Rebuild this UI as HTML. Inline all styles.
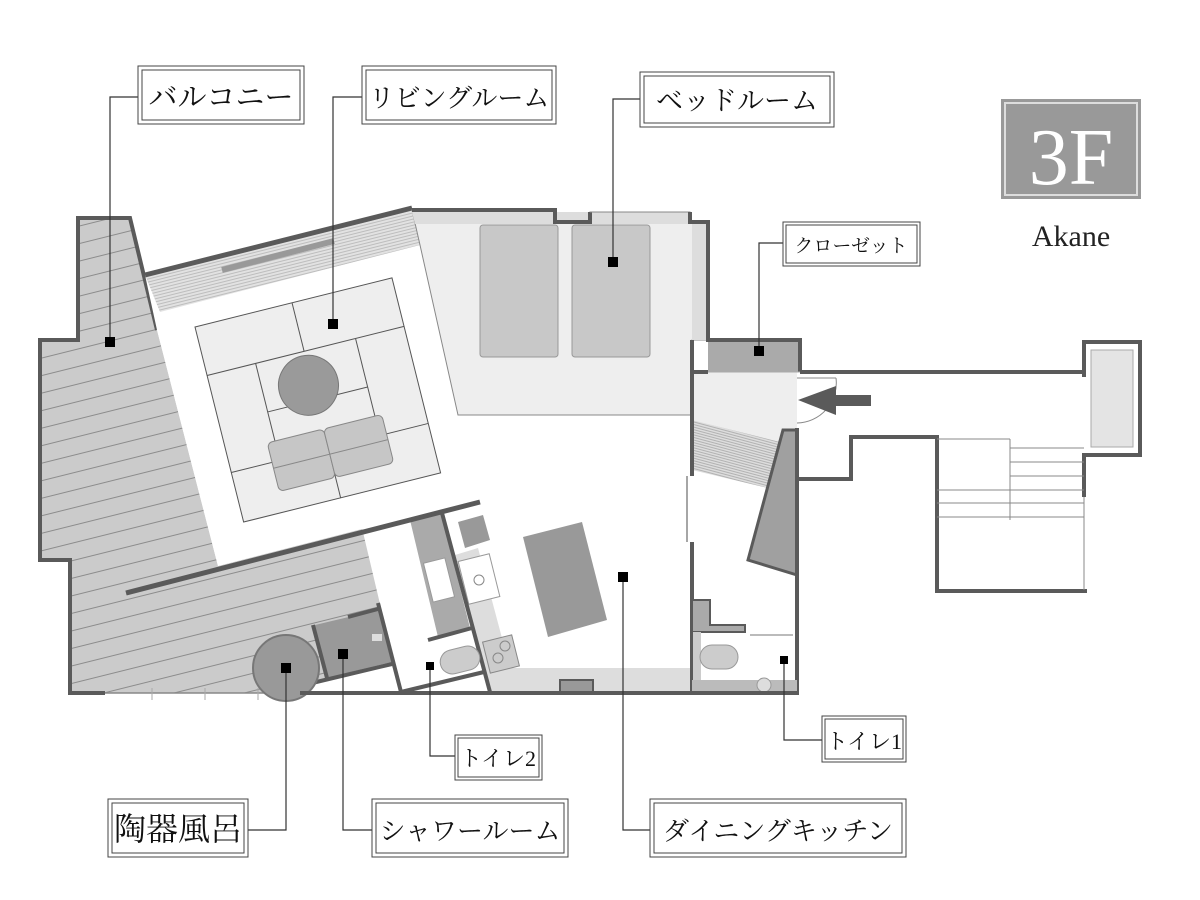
<!DOCTYPE html>
<html><head><meta charset="utf-8"><style>
html,body{margin:0;padding:0;background:#fff;}
svg{display:block}
.lbl{font-family:"Liberation Serif","Noto Serif CJK SC","Noto Sans CJK JP",serif;fill:#111;}
</style></head><body>
<svg width="1200" height="900" viewBox="0 0 1200 900" xmlns="http://www.w3.org/2000/svg">
<defs>
<pattern id="deck" patternUnits="userSpaceOnUse" width="200" height="17" patternTransform="rotate(-14)">
<rect width="200" height="17" fill="#cbcbcb"/><line x1="0" y1="0.5" x2="200" y2="0.5" stroke="#777" stroke-width="0.8"/>
</pattern>
<pattern id="fine" patternUnits="userSpaceOnUse" width="50" height="3" patternTransform="rotate(-14)">
<rect width="50" height="3" fill="#e2e2e2"/><line x1="0" y1="0.5" x2="50" y2="0.5" stroke="#999" stroke-width="0.6"/>
</pattern>
<pattern id="fine2" patternUnits="userSpaceOnUse" width="50" height="2.5" patternTransform="rotate(15)">
<rect width="50" height="2.5" fill="#ddd"/><line x1="0" y1="0.5" x2="50" y2="0.5" stroke="#888" stroke-width="0.6"/>
</pattern>
</defs>

<!-- balcony -->
<polygon points="40,340 78,340 78,218 130,218 157,330 218,566 362,528 385,610 400,693 70,693 70,560 40,560" fill="url(#deck)"/>
<polyline points="105,693 78,693 70,693 70,560 40,560 40,340 78,340 78,218 130,218 157,330" fill="none" stroke="#5a5a5a" stroke-width="4"/>
<line x1="105" y1="693" x2="300" y2="693" stroke="#888" stroke-width="1.5"/>
<line x1="152" y1="688" x2="152" y2="700" stroke="#aaa"/><line x1="205" y1="688" x2="205" y2="700" stroke="#aaa"/><line x1="258" y1="688" x2="258" y2="700" stroke="#aaa"/>

<!-- white toilet2 / shower surroundings -->
<polygon points="362,528 380,604 392,664 305,684 305,693 490,693 442,513 410,520" fill="#fff"/>

<!-- living -->
<polygon points="145,275 412,208 458,415 692,415 692,500 475,500 218,566 157,330" fill="#fff"/>
<polygon points="145,275 412,208 420,245 160,312" fill="url(#fine)"/>
<line x1="145" y1="275" x2="412" y2="208" stroke="#5a5a5a" stroke-width="5"/>
<line x1="222" y1="270" x2="334" y2="241" stroke="#999" stroke-width="6"/>

<!-- tatami -->
<g transform="translate(195,327) rotate(-14)" stroke="#555" stroke-width="1" fill="#eee">
<rect x="0" y="0" width="203" height="201"/>
<line x1="0" y1="50" x2="203" y2="50"/><line x1="100" y1="0" x2="100" y2="50"/>
<line x1="50" y1="50" x2="50" y2="150"/><line x1="153" y1="50" x2="153" y2="150"/>
<line x1="0" y1="150" x2="203" y2="150"/><line x1="100" y1="150" x2="100" y2="201"/>
<line x1="50" y1="100" x2="153" y2="100"/>
<circle cx="96" cy="84" r="30" fill="#9a9a9a" stroke="#777"/>
<rect x="42" y="130" width="58" height="50" rx="5" fill="#c6c6c6" stroke="#888"/>
<rect x="100" y="130" width="60" height="50" rx="5" fill="#c6c6c6" stroke="#888"/>
<line x1="42" y1="156" x2="160" y2="156" stroke="#888"/>
</g>

<!-- bedroom -->
<polygon points="412,210 555,210 555,222 590,222 590,212 690,212 690,222 708,222 708,340 692,340 692,415 458,415 420,245" fill="#eee" stroke="#888" stroke-width="1"/>
<polygon points="412,212 690,212 690,224 415,224" fill="#ddd"/>
<rect x="692" y="224" width="16" height="116" fill="#ddd"/>
<polyline points="412,210 555,210 555,222 590,222 590,212" fill="none" stroke="#5a5a5a" stroke-width="4"/>
<line x1="590" y1="212" x2="690" y2="212" stroke="#888" stroke-width="1"/>
<polyline points="690,212 690,222 708,222 708,342" fill="none" stroke="#5a5a5a" stroke-width="4"/>
<rect x="480" y="225" width="78" height="132" rx="3" fill="#c8c8c8" stroke="#999"/>
<rect x="572" y="225" width="78" height="132" rx="3" fill="#c8c8c8" stroke="#999"/>

<!-- dining/kitchen -->
<polygon points="455,555 478,548 510,668 692,668 692,693 490,693" fill="#ddd"/>
<polygon points="410,520 441,512 470,628 438,637" fill="#aaa"/>
<rect x="428" y="560" width="22" height="40" fill="#fff" stroke="#999" transform="rotate(-14 439 580)"/>
<rect x="463" y="557" width="32" height="44" fill="#fff" stroke="#999" transform="rotate(-14 479 579)"/>
<circle cx="479" cy="580" r="5" fill="none" stroke="#888"/>
<rect x="486" y="638" width="30" height="32" fill="#ccc" stroke="#888" transform="rotate(-14 501 654)"/>
<circle cx="498" cy="658" r="5" fill="none" stroke="#888"/><circle cx="505" cy="646" r="5" fill="none" stroke="#888"/>
<polygon points="458,522 483,515 490,540 465,548" fill="#999"/>
<polygon points="523,537 582,522 607,620 548,637" fill="#999"/>
<rect x="560" y="680" width="33" height="13" fill="#999" stroke="#5a5a5a" stroke-width="2"/>
<line x1="126" y1="593" x2="480" y2="502" stroke="#5a5a5a" stroke-width="5"/>
<line x1="442" y1="513" x2="490" y2="692" stroke="#5a5a5a" stroke-width="4"/>
<line x1="428" y1="640" x2="472" y2="628" stroke="#5a5a5a" stroke-width="4"/>

<!-- shower / bath / toilet2 -->
<polygon points="315,625 378,610 392,662 326,678" fill="#999"/>
<line x1="313" y1="625" x2="327" y2="678" stroke="#5a5a5a" stroke-width="4"/>
<line x1="348" y1="617" x2="378" y2="609" stroke="#5a5a5a" stroke-width="4"/>
<line x1="378" y1="603" x2="401" y2="692" stroke="#5a5a5a" stroke-width="4"/>
<line x1="308" y1="684" x2="392" y2="664" stroke="#5a5a5a" stroke-width="4"/>
<line x1="401" y1="692" x2="484" y2="672" stroke="#5a5a5a" stroke-width="4"/>
<rect x="372" y="634" width="10" height="7" fill="#ddd"/>
<circle cx="286" cy="668" r="33" fill="#999" stroke="#777" stroke-width="2"/>
<rect x="440" y="648" width="40" height="24" rx="12" fill="#ccc" stroke="#999" transform="rotate(-14 460 660)"/>
<line x1="300" y1="693" x2="695" y2="693" stroke="#5a5a5a" stroke-width="4"/>

<!-- right rooms -->
<rect x="692" y="372" width="105" height="70" fill="#eee"/>
<polygon points="692,420 780,442 776,490 692,470" fill="url(#fine2)"/>
<rect x="708" y="340" width="92" height="32" fill="#aaa"/>
<polyline points="708,340 800,340 800,372" fill="none" stroke="#5a5a5a" stroke-width="4"/>
<line x1="692" y1="340" x2="692" y2="476" stroke="#5a5a5a" stroke-width="4"/>
<line x1="692" y1="542" x2="692" y2="693" stroke="#5a5a5a" stroke-width="4"/>
<line x1="687" y1="476" x2="687" y2="542" stroke="#888" stroke-width="1.5"/>
<line x1="692" y1="372" x2="708" y2="372" stroke="#5a5a5a" stroke-width="4"/>
<line x1="708" y1="372" x2="800" y2="372" stroke="#aaa" stroke-width="1"/>
<polygon points="783,430 797,430 797,575 748,560" fill="#a0a0a0" stroke="#5a5a5a" stroke-width="3"/>
<line x1="797" y1="428" x2="797" y2="693" stroke="#5a5a5a" stroke-width="4"/>
<polygon points="692,600 710,600 710,625 745,625 745,632 692,632" fill="#aaa" stroke="#5a5a5a" stroke-width="2"/>
<rect x="693" y="632" width="8" height="48" fill="#ccc"/>
<rect x="700" y="645" width="38" height="24" rx="12" fill="#ccc" stroke="#999"/>
<rect x="692" y="680" width="105" height="13" fill="#bbb"/>
<circle cx="764" cy="685" r="7" fill="#ddd" stroke="#999"/>
<line x1="750" y1="635" x2="793" y2="635" stroke="#777" stroke-width="1"/>
<line x1="692" y1="693" x2="799" y2="693" stroke="#5a5a5a" stroke-width="4"/>

<!-- corridor -->
<line x1="800" y1="372" x2="1084" y2="372" stroke="#5a5a5a" stroke-width="4"/>
<polyline points="1084,377 1084,342 1140,342 1140,455 1084,455 1084,497" fill="none" stroke="#5a5a5a" stroke-width="4"/>
<rect x="1091" y="350" width="42" height="97" fill="#e4e4e4" stroke="#aaa"/>
<polyline points="797,479 851,479 851,437 937,437 937,591 1087,591" fill="none" stroke="#5a5a5a" stroke-width="4"/>
<g stroke="#888" stroke-width="1">
<line x1="937" y1="439" x2="1010" y2="439"/><line x1="1010" y1="439" x2="1010" y2="520"/>
<line x1="1010" y1="448" x2="1084" y2="448"/><line x1="1010" y1="462" x2="1084" y2="462"/><line x1="1010" y1="476" x2="1084" y2="476"/>
<line x1="937" y1="490" x2="1084" y2="490"/><line x1="937" y1="503" x2="1084" y2="503"/><line x1="937" y1="517" x2="1084" y2="517"/>
<line x1="1084" y1="497" x2="1084" y2="590"/>
</g>
<path d="M797,378 L836,378 M836,378 A40,40 0 0 1 797,423" fill="none" stroke="#888" stroke-width="1"/>
<rect x="833" y="395" width="38" height="11" fill="#5a5a5a"/>
<polygon points="798,400 836,386 836,415" fill="#5a5a5a"/>

<!-- leaders -->
<g stroke="#333" stroke-width="1.2" fill="none">
<polyline points="138,97 110,97 110,342"/>
<polyline points="362,97 333,97 333,324"/>
<polyline points="640,99 613,99 613,262"/>
<polyline points="783,243 759,243 759,351"/>
<polyline points="822,740 784,740 784,660"/>
<polyline points="455,756 430,756 430,666"/>
<polyline points="248,830 286,830 286,668"/>
<polyline points="372,830 343,830 343,654"/>
<polyline points="650,830 623,830 623,577"/>
</g>
<g fill="#000">
<rect x="105" y="337" width="10" height="10"/><rect x="328" y="319" width="10" height="10"/>
<rect x="608" y="257" width="10" height="10"/><rect x="754" y="346" width="10" height="10"/>
<rect x="780" y="656" width="8" height="8"/><rect x="426" y="662" width="8" height="8"/>
<rect x="281" y="663" width="10" height="10"/><rect x="338" y="649" width="10" height="10"/>
<rect x="618" y="572" width="10" height="10"/>
</g>

<!-- label boxes -->
<g fill="#fff" stroke="#444" stroke-width="1">
<rect x="138" y="66" width="166" height="58"/><rect x="142" y="70" width="158" height="50"/>
<rect x="362" y="66" width="194" height="58"/><rect x="366" y="70" width="186" height="50"/>
<rect x="640" y="72" width="194" height="55"/><rect x="644" y="76" width="186" height="47"/>
<rect x="783" y="222" width="137" height="44"/><rect x="786" y="225" width="131" height="38"/>
<rect x="822" y="716" width="84" height="46"/><rect x="825" y="719" width="78" height="40"/>
<rect x="455" y="735" width="87" height="45"/><rect x="458" y="738" width="81" height="39"/>
<rect x="108" y="799" width="140" height="58"/><rect x="112" y="803" width="132" height="50"/>
<rect x="372" y="799" width="196" height="58"/><rect x="376" y="803" width="188" height="50"/>
<rect x="650" y="799" width="256" height="58"/><rect x="654" y="803" width="248" height="50"/>
</g>
<g class="lbl">
<text x="221" y="107" font-size="29" text-anchor="middle">バルコニー</text>
<text x="459" y="107" font-size="26" text-anchor="middle">リビングルーム</text>
<text x="737" y="110" font-size="27" text-anchor="middle">ベッドルーム</text>
<text x="851" y="252" font-size="19" text-anchor="middle">クローゼット</text>
<text x="864" y="749" font-size="22" text-anchor="middle">トイレ1</text>
<text x="498" y="766" font-size="22" text-anchor="middle">トイレ2</text>
<text x="178" y="840" font-size="32" text-anchor="middle">陶器風呂</text>
<text x="470" y="840" font-size="26" text-anchor="middle">シャワールーム</text>
<text x="778" y="840" font-size="26" text-anchor="middle">ダイニングキッチン</text>
</g>

<!-- 3F -->
<rect x="1001" y="99" width="140" height="100" fill="#999"/>
<rect x="1005" y="103" width="132" height="92" fill="none" stroke="#ddd" stroke-width="2"/>
<text x="1071" y="184" font-size="80" fill="#fff" text-anchor="middle" font-family="Liberation Serif, serif">3F</text>
<text x="1071" y="246" font-size="30" fill="#222" text-anchor="middle" font-family="Liberation Serif, serif">Akane</text>
</svg>
</body></html>
